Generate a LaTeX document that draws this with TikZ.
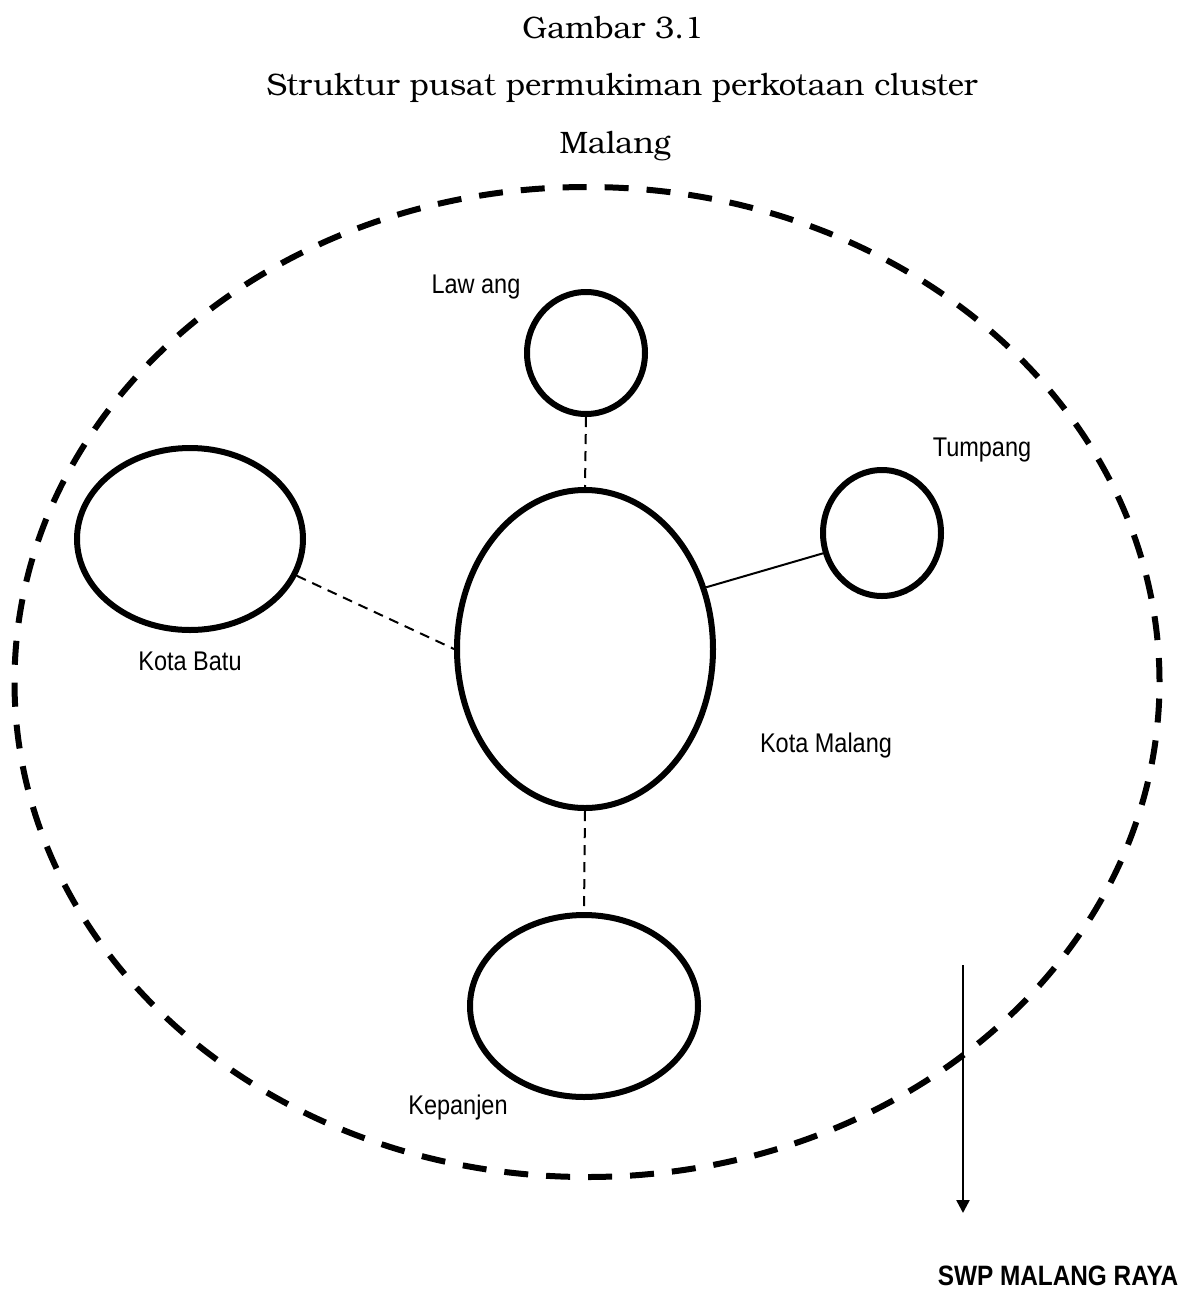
\documentclass[tikz,border=0pt]{standalone}
\usepackage{fontspec}
\usetikzlibrary{shapes.geometric,arrows.meta}
\newfontfamily\titlefont{TeX Gyre Bonum}
\newfontfamily\labelfont[FakeStretch=0.87]{Liberation Sans}
\begin{document}
\begin{tikzpicture}[x=1pt,y=-1pt,
  town/.style={ellipse,draw,line width=6pt,inner sep=0pt},
  thinlink/.style={line width=2pt,dash pattern=on 10pt off 7pt},
  solidlink/.style={line width=2pt},
  lbl/.style={font=\labelfont\fontsize{27}{30}\selectfont,anchor=base,inner sep=0pt},
  ttl/.style={font=\titlefont\fontsize{31}{36}\selectfont,anchor=base,inner sep=0pt}]
\useasboundingbox (0,0) rectangle (1201,1291);
% title
\node[ttl] (t1) at (613,38) {Gambar 3.1};
\node[ttl] (t2) at (622,95) {Struktur pusat permukiman perkotaan cluster};
\node[ttl] (t3) at (615,153) {Malang};
% outer region
\node[ellipse,draw,line width=6pt,dash pattern=on 24pt off 18pt,inner sep=0pt,
  minimum width=1145pt,minimum height=990pt] (swp) at (587,682) {};
% towns
\node[town,minimum width=118pt,minimum height=122pt] (law) at (586,353) {};
\node[town,minimum width=226pt,minimum height=182pt] (batu) at (190,539) {};
\node[town,minimum width=256pt,minimum height=318pt] (mlg) at (585,649) {};
\node[town,minimum width=118pt,minimum height=126pt] (tump) at (882,533) {};
\node[town,minimum width=228pt,minimum height=182pt] (kep) at (584,1006) {};
% links
\draw[thinlink] (law.south) -- (mlg.north);
\draw[thinlink] (batu.-19) -- (mlg.west);
\draw[solidlink] (mlg.27.7) -- (tump.-161);
\draw[thinlink] (mlg.south) -- (kep.north);
% arrow
\coordinate (a1) at (963,965);
\coordinate (a2) at (963,1213);
\draw[line width=2.5pt,-{Triangle[length=13pt,width=13pt]}] (a1) -- (a2);
% labels
\node[lbl] (llaw) at (476,293) {Law ang};
\node[lbl] (ltump) at (982,456) {Tumpang};
\node[lbl] (lbatu) at (190,670) {Kota Batu};
\node[lbl] (lmlg) at (826,752) {Kota Malang};
\node[lbl] (lkep) at (458,1114) {Kepanjen};
\node[font=\labelfont\bfseries\fontsize{28}{30}\selectfont,anchor=base,inner sep=0pt,text depth=0pt] (lswp) at (1058,1285) {SWP MALANG RAYA};
\end{tikzpicture}
\end{document}
